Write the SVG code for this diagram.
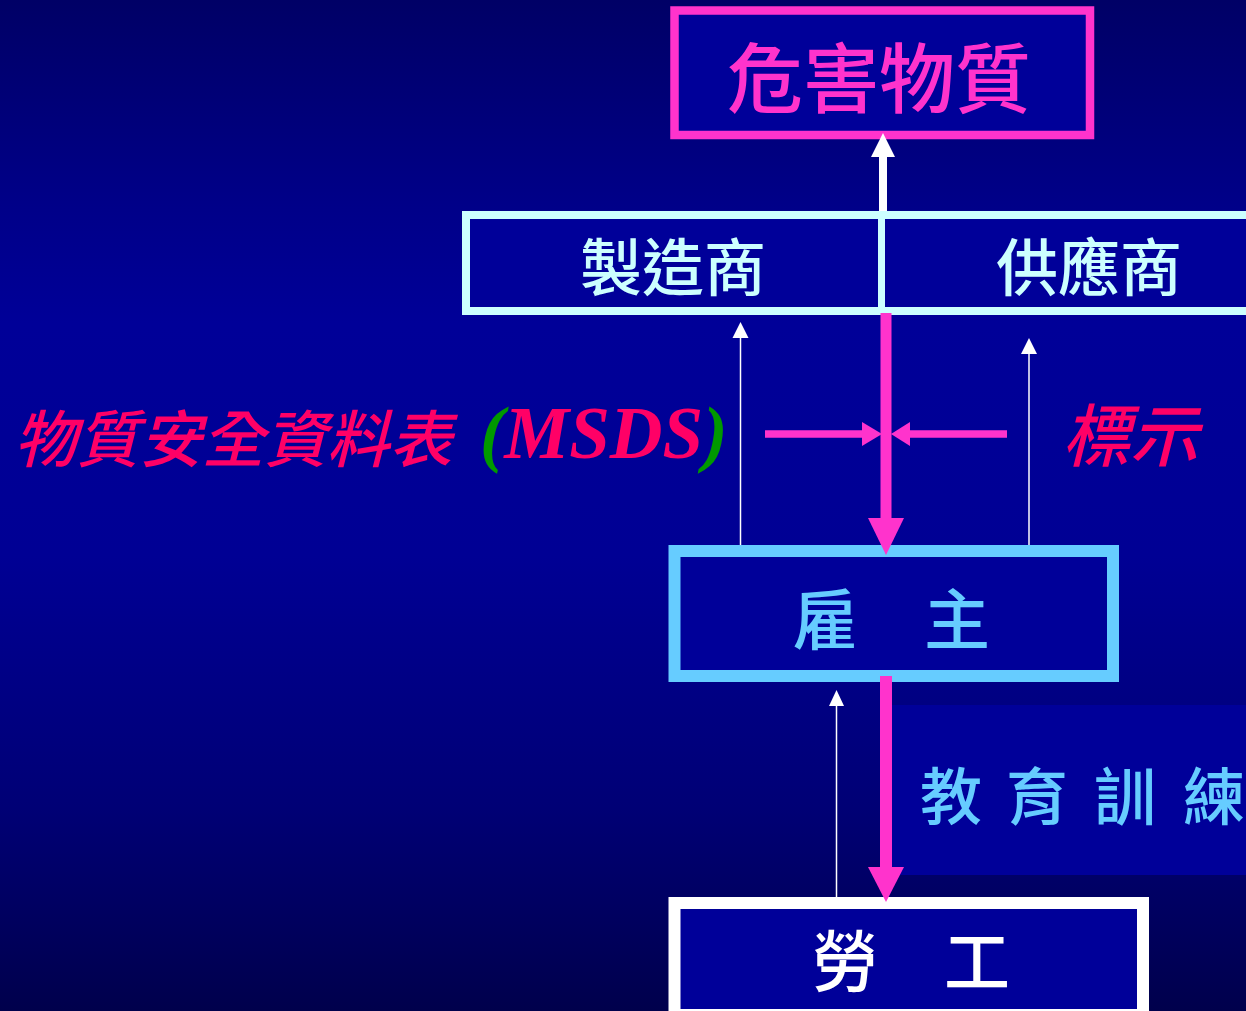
<svg xmlns="http://www.w3.org/2000/svg" width="1246" height="1011" viewBox="0 0 1246 1011">
  <defs>
    <linearGradient id="bg" x1="0" y1="0" x2="0" y2="1">
      <stop offset="0" stop-color="#000066"/>
      <stop offset="0.2" stop-color="#000088"/>
      <stop offset="0.32" stop-color="#000098"/>
      <stop offset="0.55" stop-color="#000094"/>
      <stop offset="0.8" stop-color="#000075"/>
      <stop offset="1" stop-color="#00004c"/>
    </linearGradient>
    <style>
      .cjk { font-family: "Noto Sans CJK TC", "Noto Sans CJK SC", sans-serif; font-weight: 500; }
      .box { fill: #000099; }
      .pink { fill: #FF33CC; }
      .pinkline { stroke: #FF33CC; fill: none; }
      .white { fill: #FFFFFF; }
      .thin { stroke: #FFFFFF; stroke-width: 1.5; fill: none; }
    </style>
  </defs>
  <rect x="0" y="0" width="1246" height="1011" fill="url(#bg)"/>

  <g id="panel-training">
    <rect x="892" y="705" width="354" height="170" fill="#000099"/>
    <text class="cjk" x="920 1006 1094 1183" y="820" font-size="62" fill="#66CCFF">教育訓練</text>
  </g>

  <g id="node-hazard">
    <rect class="box" x="674.5" y="10.5" width="415.5" height="124.5" stroke="#FF33CC" stroke-width="8.5"/>
    <text class="cjk" x="879" y="107" font-size="76" text-anchor="middle" fill="#FF33CC">危害物質</text>
  </g>

  <g id="node-suppliers">
    <rect class="box" x="466" y="215" width="790" height="96" stroke="#CCFFFF" stroke-width="8"/>
    <line x1="881.5" y1="215" x2="881.5" y2="311" stroke="#CCFFFF" stroke-width="7"/>
    <text class="cjk" x="673" y="291" font-size="62" text-anchor="middle" fill="#CCFFFF">製造商</text>
    <text class="cjk" x="1089" y="291" font-size="62" text-anchor="middle" fill="#CCFFFF">供應商</text>
  </g>

  <g id="node-employer">
    <rect class="box" x="674.5" y="551" width="438.5" height="125" stroke="#66CCFF" stroke-width="12"/>
    <text class="cjk" x="891" y="644" font-size="66" text-anchor="middle" fill="#66CCFF">雇　主</text>
  </g>

  <g id="node-worker">
    <rect class="box" x="674.5" y="903" width="468.5" height="112" stroke="#FFFFFF" stroke-width="12"/>
    <text class="cjk" x="911" y="986" font-size="66" text-anchor="middle" fill="#FFFFFF">勞　工</text>
  </g>

  <g id="label-msds">
    <text class="cjk" x="14" y="462" font-size="62" font-style="italic" fill="#FF0066" textLength="438" lengthAdjust="spacingAndGlyphs">物質安全資料表</text>
    <text x="480" y="458" font-family="'Liberation Serif', serif" font-size="73" font-weight="bold" font-style="italic"><tspan fill="#009900">(</tspan><tspan fill="#FF0066">MSDS</tspan><tspan fill="#009900">)</tspan></text>
  </g>

  <g id="label-marking">
    <text class="cjk" x="1062" y="461" font-size="68" font-style="italic" fill="#FF0066">標示</text>
  </g>

  <g id="connectors">
    <rect class="white" x="879" y="156" width="8" height="55"/>
    <polygon class="white" points="871,157 883,133 895,157"/>
    <line class="thin" x1="740.5" y1="545" x2="740.5" y2="336"/>
    <polygon class="white" points="732.5,338 740.5,322 748.5,338"/>
    <line class="thin" x1="1029" y1="545" x2="1029" y2="352"/>
    <polygon class="white" points="1021,354 1029,338 1037,354"/>
    <line class="thin" x1="836.5" y1="897" x2="836.5" y2="704"/>
    <polygon class="white" points="829,706 836.5,690 844,706"/>
    <line class="pinkline" x1="886" y1="313" x2="886" y2="520" stroke-width="11"/>
    <polygon class="pink" points="868,518 904,518 886,555"/>
    <line class="pinkline" x1="765" y1="434" x2="864" y2="434" stroke-width="7.5"/>
    <polygon class="pink" points="862,422 882,434 862,446"/>
    <line class="pinkline" x1="1007" y1="434" x2="908" y2="434" stroke-width="7.5"/>
    <polygon class="pink" points="910,422 891,434 910,446"/>
    <line class="pinkline" x1="886" y1="676" x2="886" y2="869" stroke-width="12"/>
    <polygon class="pink" points="868,867 904,867 886,902"/>
  </g>
</svg>
